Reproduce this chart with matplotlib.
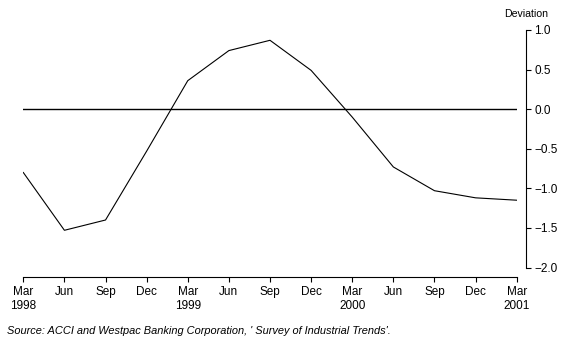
import matplotlib
matplotlib.use("Agg")
import matplotlib.pyplot as plt

plt.rcParams['font.family'] = ['Liberation Sans', 'DejaVu Sans']

# quarterly deviation, Mar 1998 .. Mar 2001
quarters = ["Mar\n1998", "Jun", "Sep", "Dec",
            "Mar\n1999", "Jun", "Sep", "Dec",
            "Mar\n2000", "Jun", "Sep", "Dec",
            "Mar\n2001"]
deviation = [-0.80, -1.53, -1.40, -0.53,
             0.36, 0.74, 0.87, 0.49,
             -0.10, -0.73, -1.03, -1.12, -1.15]
yticks = [1.0, 0.5, 0.0, -0.5, -1.0, -1.5, -2.0]

fig = plt.figure(figsize=(5.72, 3.46), dpi=100)
ax = fig.add_axes([23.3 / 572, 78.5 / 346, 493.4 / 572, 237.5 / 346])

x = list(range(len(deviation)))
ax.plot(x, deviation, color="black", lw=0.8)
ax.axhline(0, color="black", lw=1.0)

ax.set_xlim(0, len(deviation) - 1)
ax.set_ylim(-2.0, 1.0)

for s in ["top", "left"]:
    ax.spines[s].set_visible(False)
ax.spines["right"].set_position(("outward", 7))
ax.spines["bottom"].set_position(("outward", 7))
ax.spines["right"].set_linewidth(0.8)
ax.spines["bottom"].set_linewidth(0.8)

ax.yaxis.tick_right()
ax.set_yticks(yticks)
ax.set_yticklabels(["%.1f" % v if v >= 0 else "\u2212%.1f" % -v for v in yticks])
ax.set_xticks(x)
ax.set_xticklabels(quarters, linespacing=1.15)
ax.tick_params(axis="both", labelsize=8.5, length=3.5, width=0.8, pad=2)
ax.tick_params(axis="x", pad=3)

fig.text(548 / 572, 1 - 14 / 346, "Deviation", ha="right", va="center", fontsize=7.6)
fig.text(7 / 572, 1 - 331 / 346,
         "Source: ACCI and Westpac Banking Corporation, ' Survey of Industrial Trends'.",
         ha="left", va="center", fontsize=7.9, style="italic")

fig.savefig("out.png", dpi=100)
plt.close(fig)
